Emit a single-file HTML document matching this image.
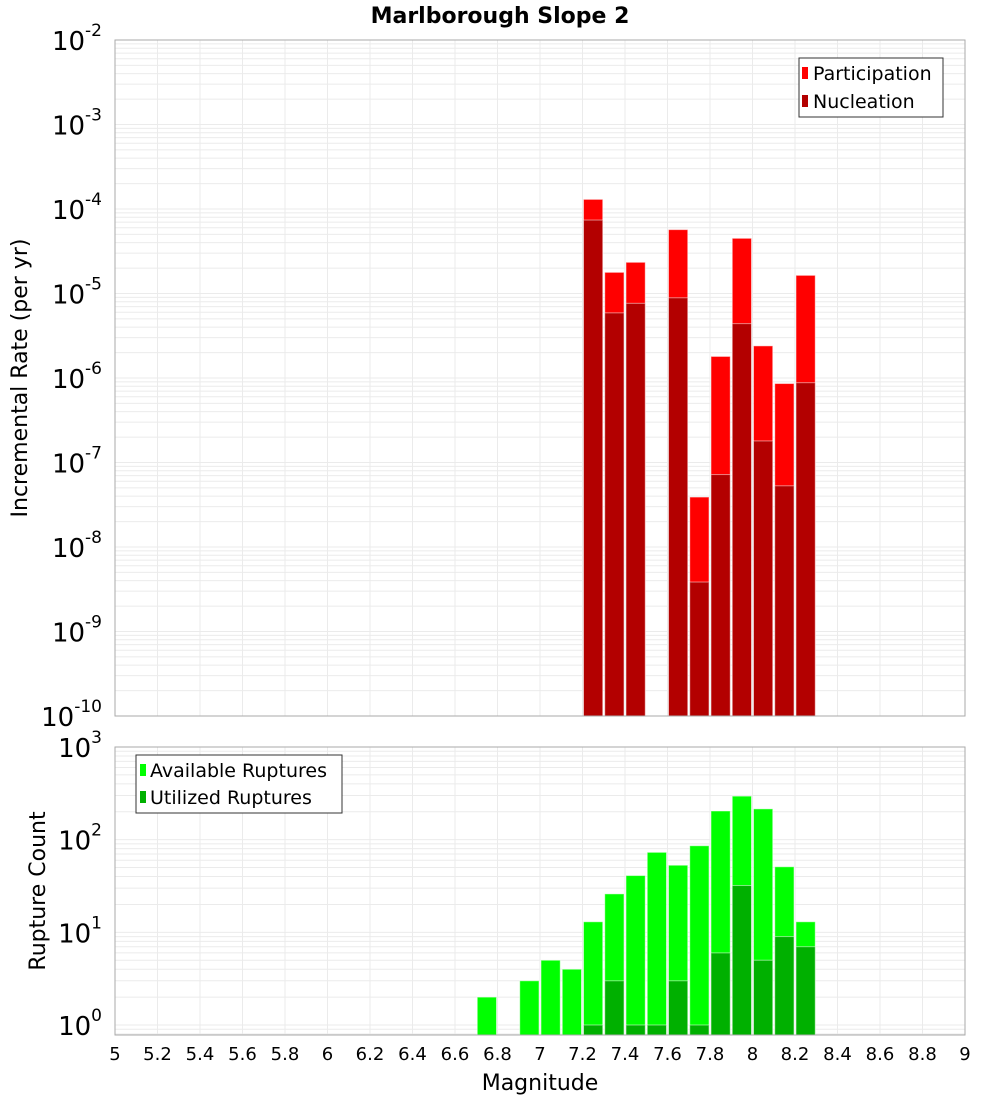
<!DOCTYPE html>
<html><head><meta charset="utf-8"><style>
body{margin:0;background:#fff}
svg{display:block;font-family:"DejaVu Sans","Liberation Sans",sans-serif}
</style></head><body>
<svg id="c" width="1000" height="1100" xmlns="http://www.w3.org/2000/svg">
<rect width="1000" height="1100" fill="#fff"/>
<text x="500" y="23" text-anchor="middle" font-size="22" font-weight="bold">Marlborough Slope 2</text>
<g id="top"></g><g id="bot"></g>
<text x="540" y="1090" text-anchor="middle" font-size="22">Magnitude</text>
<text transform="translate(27,378) rotate(-90)" text-anchor="middle" font-size="22">Incremental Rate (per yr)</text>
<text transform="translate(45,891) rotate(-90)" text-anchor="middle" font-size="22">Rupture Count</text>
<g>
<rect x="799" y="58" width="144" height="59" fill="#fff" stroke="#333"/>
<rect x="802" y="67" width="6" height="12" fill="#ff0000"/>
<text x="813" y="80" font-size="19">Participation</text>
<rect x="802" y="95" width="6" height="12" fill="#b30000"/>
<text x="813" y="108" font-size="19">Nucleation</text>
</g>
<g>
<rect x="136" y="755" width="206" height="58" fill="#fff" stroke="#333"/>
<rect x="140" y="764" width="6" height="12" fill="#00ff00"/>
<text x="150" y="777" font-size="19">Available Ruptures</text>
<rect x="140" y="791" width="6" height="12" fill="#00b000"/>
<text x="150" y="804" font-size="19">Utilized Ruptures</text>
</g>
</svg>
<script>
const mags=[6.75,6.85,6.95,7.05,7.15,7.25,7.35,7.45,7.55,7.65,7.75,7.85,7.95,8.05,8.15,8.25];
const participation=[0,0,0,0,0,1.3e-4,1.78e-5,2.34e-5,0,5.7e-5,3.9e-8,1.8e-6,4.5e-5,2.4e-6,8.6e-7,1.64e-5];
const nucleation=[0,0,0,0,0,7.4e-5,5.9e-6,7.65e-6,0,8.9e-6,3.85e-9,7.2e-8,4.4e-6,1.8e-7,5.3e-8,8.8e-7];
const available=[2,0,3,5,4,13,26,41,73,53,86,204,295,215,51,13];
const utilized=[0,0,0,0,0,1,3,1,1,3,1,6,32,5,9,7];
const xTicks=[5,5.2,5.4,5.6,5.8,6,6.2,6.4,6.6,6.8,7,7.2,7.4,7.6,7.8,8,8.2,8.4,8.6,8.8,9];
const NS="http://www.w3.org/2000/svg";
const X0=115,X1=965;
const x=m=>X0+(m-5)/4*(X1-X0);
const T={y0:40,y1:716,lmin:-10,lmax:-2};
const B={y0:747,y1:1035};
const yT=v=>T.y0+(T.lmax-Math.log10(v))/(T.lmax-T.lmin)*(T.y1-T.y0);
const B_PD=(1025-747)/3;
const yB=v=>1025-Math.log10(v)*B_PD;
function el(t,a,p){const e=document.createElementNS(NS,t);for(const k in a)e.setAttribute(k,a[k]);p.appendChild(e);return e;}
function panel(g,P,yf,d0,d1,name){
  el('rect',{x:X0,y:P.y0,width:X1-X0,height:P.y1-P.y0,fill:'#fff'},g);
  for(let d=d0-1;d<=d1;d++)for(let k=1;k<10;k++){const v=k*Math.pow(10,d);const yy=yf(v);if(yy<P.y0-0.5||yy>P.y1+0.5)continue;
    el('line',{x1:X0,x2:X1,y1:yy,y2:yy,stroke:'#ebebeb','stroke-width':1},g);}
  xTicks.forEach(t=>el('line',{x1:x(t),x2:x(t),y1:P.y0,y2:P.y1,stroke:'#ebebeb'},g));
  for(let d=d0;d<=d1;d++){const yy=yf(Math.pow(10,d));
    const t=el('text',{x:102,y:yy+10,'text-anchor':'end','font-size':26},g);
    
    
    t.textContent='10';
    const s=el('tspan',{dy:-14,'font-size':17},t);s.textContent=String(d);}
}
const gTop=document.getElementById('top'),gBot=document.getElementById('bot');
panel(gTop,T,yT,-10,-2,'top-y');
panel(gBot,B,yB,0,3,'bottom-y');
function bars(g,P,yf,vals,col,name){
  vals.forEach((v,i)=>{if(!v)return;const xa=x(mags[i]-0.05)+1,xb=x(mags[i]+0.05)-1,yy=yf(v);
    const r=el('rect',{x:xa,y:yy,width:xb-xa,height:P.y1-yy,fill:col,stroke:'rgba(255,255,255,0.5)','stroke-width':1},g);
    
    });
}
bars(gTop,T,yT,participation,'#ff0000','participation');
bars(gTop,T,yT,nucleation,'#b30000','nucleation');
bars(gBot,B,yB,available,'#00ff00','available');
bars(gBot,B,yB,utilized,'#00b000','utilized');
el('rect',{x:X0,y:T.y0,width:X1-X0,height:T.y1-T.y0,fill:'none',stroke:'#aaa'},gTop);
el('rect',{x:X0,y:B.y0,width:X1-X0,height:B.y1-B.y0,fill:'none',stroke:'#aaa'},gBot);
xTicks.forEach(t=>{const tx=el('text',{x:x(t),y:1060,'text-anchor':'middle','font-size':18},gBot);
  
  
  tx.textContent=String(t);});
</script>
</body></html>
